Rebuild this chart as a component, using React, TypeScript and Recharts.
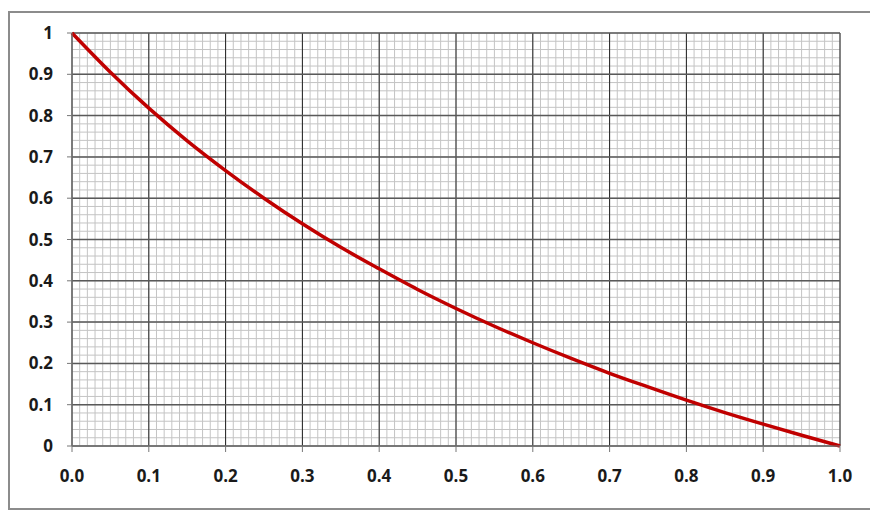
import React from "react";
import { LineChart, Line, XAxis, YAxis, CartesianGrid } from "recharts";

// values
const xValues = [0, 0.05, 0.1, 0.15, 0.2, 0.25, 0.3, 0.35, 0.4, 0.45, 0.5, 0.55, 0.6, 0.65, 0.7, 0.75, 0.8, 0.85, 0.9, 0.95, 1.0];
const yValues = [1, 0.905, 0.818, 0.739, 0.667, 0.6, 0.538, 0.481, 0.429, 0.379, 0.333, 0.29, 0.25, 0.212, 0.176, 0.143, 0.111, 0.081, 0.053, 0.026, 0];

const majorTicks = [0, 0.1, 0.2, 0.3, 0.4, 0.5, 0.6, 0.7, 0.8, 0.9, 1.0];
const minorXTicks = Array.from({ length: 101 }, (_, i) => i / 100);
const minorYTicks = Array.from({ length: 51 }, (_, i) => i / 50);

const data = xValues.map((x, i) => ({ x, y: yValues[i] }));

const tickStyle = { fontFamily: "'Open Sans', sans-serif", fontWeight: 700, fontSize: 17, fill: "#1a1a1a" };

export default function App() {
    return (
        <div style={{ paddingTop: 3 }}>
            <div style={{ width: 861, height: 495, border: "2px solid #8c8c8c", background: "#fff" }}>
                <LineChart width={861} height={495} data={data} margin={{ top: 20, right: 31, left: 12, bottom: 30 }}>
                    {/* minor grid on hidden axes */}
                    <XAxis xAxisId="minor" dataKey="x" type="number" domain={[0, 1]} ticks={minorXTicks} interval={0} hide />
                    <YAxis yAxisId="minor" dataKey="y" type="number" domain={[0, 1]} ticks={minorYTicks} interval={0} hide />
                    <CartesianGrid xAxisId="minor" yAxisId="minor" stroke="#c4c4c4" strokeWidth={1} />

                    <CartesianGrid horizontal={false} stroke="#222" strokeWidth={1} />
                    <CartesianGrid vertical={false} stroke="#595959" strokeWidth={1.5} />

                    <XAxis
                        dataKey="x"
                        type="number"
                        domain={[0, 1]}
                        ticks={majorTicks}
                        tickFormatter={(v) => v.toFixed(1)}
                        tick={tickStyle}
                        tickSize={6}
                        tickMargin={18}
                        height={32}
                        stroke="#777"
                        interval={0}
                    />
                    <YAxis
                        type="number"
                        domain={[0, 1]}
                        ticks={majorTicks}
                        tickFormatter={(v) => String(Math.round(v * 10) / 10)}
                        tick={tickStyle}
                        tickSize={5}
                        tickMargin={14}
                        width={50}
                        stroke="#777"
                        interval={0}
                    />

                    <Line
                        type="monotone"
                        dataKey="y"
                        stroke="#c00000"
                        strokeWidth={3.5}
                        dot={false}
                        isAnimationActive={false}
                    />
                </LineChart>
            </div>
        </div>
    );
}
